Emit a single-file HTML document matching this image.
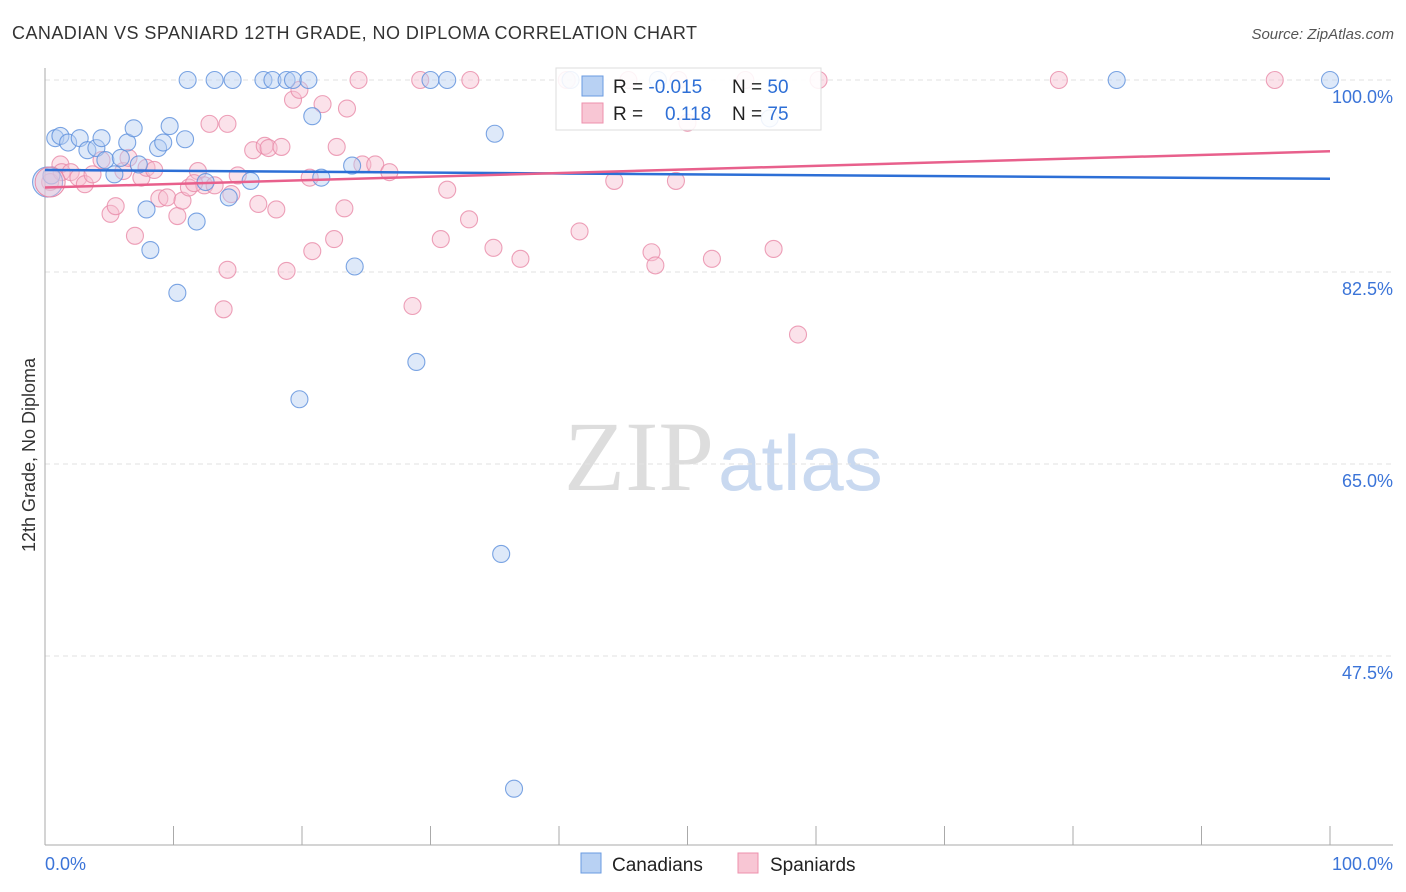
<!DOCTYPE html>
<html><head><meta charset="utf-8"><style>
body{margin:0;background:#fff;font-family:"Liberation Sans",sans-serif}
svg{display:block}
</style></head><body>
<svg id="c" width="1406" height="892">
<text x="12" y="39" font-size="18" fill="#333" textLength="685">CANADIAN VS SPANIARD 12TH GRADE, NO DIPLOMA CORRELATION CHART</text>
<text x="1394" y="39" font-size="15" fill="#555" font-style="italic" text-anchor="end">Source: ZipAtlas.com</text>
<text x="714" y="490" font-size="100" fill="#ddd" font-family="Liberation Serif,serif" text-anchor="end">ZIP</text>
<text x="718" y="490" font-size="78" fill="#c9d9f0">atlas</text>
<text transform="translate(35,455) rotate(-90)" font-size="18" fill="#333" text-anchor="middle">12th Grade, No Diploma</text>
<g id="grid"></g><g id="pts"></g><g id="lines"></g>
<g>
<rect x="556" y="68" width="265" height="62" fill="#fff" fill-opacity="0.88" stroke="#ddd"/>
<rect x="582" y="76" width="21" height="20" fill="#b8d1f3" stroke="#6a9be0"/>
<rect x="582" y="103" width="21" height="20" fill="#f8c6d4" stroke="#ee90ad"/>
<text x="613" y="93" font-size="19" fill="#222">R = <tspan fill="#2e6fd6">-0.015</tspan></text>
<text x="732" y="93" font-size="19" fill="#222">N = <tspan fill="#2e6fd6">50</tspan></text>
<text x="613" y="120" font-size="19" fill="#222">R = </text>
<text x="665" y="120" font-size="19" fill="#2e6fd6">0.118</text>
<text x="732" y="120" font-size="19" fill="#222">N = <tspan fill="#2e6fd6">75</tspan></text>
</g>
<g>
<rect x="581" y="853" width="20" height="20" fill="#b8d1f3" stroke="#6a9be0"/>
<text x="612" y="871" font-size="19" fill="#222">Canadians</text>
<rect x="738" y="853" width="20" height="20" fill="#f8c6d4" stroke="#ee90ad"/>
<text x="770" y="871" font-size="19" fill="#222">Spaniards</text>
</g>
</svg>
<script>
const yTicks=[100,82.5,65,47.5];
const yTickLabels=["100.0%","82.5%","65.0%","47.5%"];
const xEndLabels=["0.0%","100.0%"];
const blueX=[11.1,13.2,14.6,17.0,17.7,18.8,19.3,20.5,30.0,31.3,40.9,47.7,83.4,100,0.8,1.2,1.8,2.7,3.3,4.0,4.4,4.7,5.4,5.9,6.4,6.9,7.3,7.9,8.2,8.8,9.2,9.7,10.3,10.9,11.8,12.5,14.3,16.0,19.8,20.8,21.5,23.9,24.1,28.9,35.0,35.5,36.5,56.4,0.5,0.2];
const blueY=[100,100,100,100,100,100,100,100,100,100,100,100,100,100,94.7,94.9,94.3,94.7,93.6,93.8,94.7,92.7,91.4,92.9,94.3,95.6,92.3,88.2,84.5,93.8,94.3,95.8,80.6,94.6,87.1,90.7,89.3,90.8,70.9,96.7,91.1,92.2,83.0,74.3,95.1,56.8,35.4,96.5,91.3,90.7];
const pinkX=[0.4,1.2,1.3,2.0,2.6,3.1,3.7,4.4,5.1,5.5,6.1,6.5,7.0,7.5,7.9,8.5,8.9,9.5,10.3,10.7,11.2,11.9,12.4,12.8,13.2,14.2,13.9,14.5,15.0,16.2,16.6,17.1,17.4,18.0,18.4,18.8,19.3,19.8,20.6,20.8,21.6,22.5,22.7,23.3,23.5,24.4,24.7,25.7,26.8,28.6,29.2,30.8,31.3,33.0,33.1,34.9,37.0,41.6,44.3,47.2,47.5,49.1,50.0,51.9,56.7,58.6,78.9,95.7,40.6,45.4,49.3,54.5,60.2,14.2,11.6];
const pinkY=[90.7,92.3,91.6,91.6,91.1,90.5,91.4,92.7,87.8,88.5,91.7,92.9,85.8,91.1,92.0,91.8,89.2,89.3,87.6,89.0,90.2,91.7,90.4,96.0,90.4,82.7,79.1,89.6,91.3,93.6,88.7,94.0,93.8,88.2,93.9,82.6,98.2,99.1,91.1,84.4,97.8,85.5,93.9,88.3,97.4,100,92.3,92.3,91.6,79.4,100,85.5,90.0,87.3,100,84.7,83.7,86.2,90.8,84.3,83.1,90.8,96.1,83.7,84.6,76.8,100,100,100,100,100,100,100,96.0,90.6];
const blueTrend=[91.8,91.0];
const pinkTrend=[90.2,93.5];
const NS="http://www.w3.org/2000/svg";
const X=v=>45+v*12.85, Y=v=>80+(100-v)*10.971;
function mk(t,a,p){const e=document.createElementNS(NS,t);for(const k in a)e.setAttribute(k,a[k]);p.appendChild(e);return e;}
const svg=document.getElementById('c'),grid=document.getElementById('grid'),pts=document.getElementById('pts'),lines=document.getElementById('lines');
yTicks.forEach((t,i)=>{
 const l=mk('line',{x1:45,x2:1393,y1:Y(t),y2:Y(t),stroke:'#e2e2e2','stroke-dasharray':'5,4'},grid);
 
 
 const tx=mk('text',{x:1393,y:Y(t)+23,'font-size':18,fill:'#3b74d8','text-anchor':'end'},grid);
 tx.textContent=yTickLabels[i];
 
 
});
const ax=mk('line',{x1:45,x2:45,y1:68,y2:845,stroke:'#aaa'},grid);


const bx=mk('line',{x1:45,x2:1393,y1:845,y2:845,stroke:'#aaa'},grid);


for(let i=0;i<=10;i++){
 const tk=mk('line',{x1:X(i*10),x2:X(i*10),y1:826,y2:845,stroke:'#aaa'},grid);
 
 
}
[[0,'start',45],[100,'end',1393]].forEach((d,i)=>{
 const t=mk('text',{x:d[2],y:870,'font-size':18,fill:'#3b74d8','text-anchor':d[1]},grid);
 t.textContent=xEndLabels[i];
 
 
});
function plot(xs,ys,fill,stroke,name){
 xs.forEach((x,i)=>{
  const c=mk('circle',{cx:X(x),cy:Y(ys[i]),r:(i===xs.length-1&&name==='canadian-point')?15:8.5,fill:fill,'fill-opacity':0.45,stroke:stroke,'stroke-opacity':0.8,'stroke-width':1.1},pts);
  
  
 });
}
plot(pinkX,pinkY,'#f7bfd0','#e88aa8','spaniard-point');
plot(blueX,blueY,'#b5cff2','#5b8fdc','canadian-point');
const big=mk('circle',{cx:X(0.4),cy:Y(90.7),r:15,fill:'#f7bfd0','fill-opacity':0.4,stroke:'#e88aa8'},pts);


const bl=mk('line',{x1:X(0),x2:X(100),y1:Y(blueTrend[0]),y2:Y(blueTrend[1]),stroke:'#2d6fd6','stroke-width':2.5},lines);


const pl=mk('line',{x1:X(0),x2:X(100),y1:Y(pinkTrend[0]),y2:Y(pinkTrend[1]),stroke:'#e8608c','stroke-width':2.5},lines);


</script>
</body></html>
